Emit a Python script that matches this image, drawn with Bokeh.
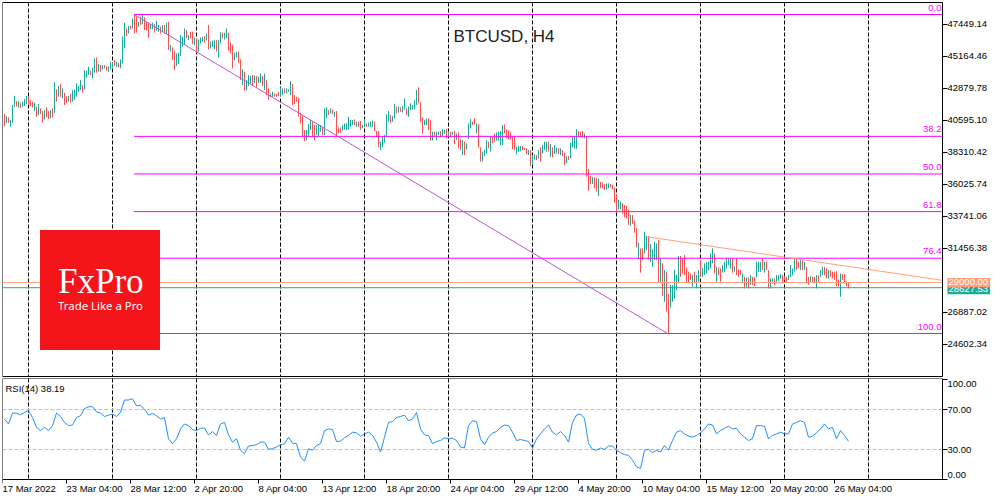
from bokeh.core.properties import value
from bokeh.embed import file_html
from bokeh.layouts import column
from bokeh.models import BoxAnnotation, FixedTicker, Label, NumeralTickFormatter, Range1d
from bokeh.plotting import figure
from bokeh.resources import INLINE

bar_high = [
41040,40900,40810,40620,41690,42330,41970,41970,41850,41930,
42120,42330,42330,42050,41930,41850,41570,41760,41450,41260,
41330,41520,41260,41330,41450,43330,42810,43050,43190,42880,
42570,42330,42330,42470,42760,42810,43240,43050,43470,43120,
44190,44140,44430,44140,44360,45020,45090,44620,44550,44550,
44550,44470,44430,44780,44710,44900,44780,44710,44950,46570,
47570,47170,47340,47340,47880,48120,48000,47640,48000,48120,
47950,47640,47570,47480,47570,47480,47720,47410,47290,47410,
47410,47570,47640,45980,45810,45570,45380,45430,46690,46570,
47170,47050,46690,46930,46930,46520,46450,46380,46520,46570,
46620,46810,47410,46210,46290,46330,46330,46330,46910,46860,
46860,47170,46860,46210,45980,45430,45500,45500,44950,44240,
44070,43470,43830,43760,43830,43830,43760,43710,43950,43760,
43950,43470,42880,42520,42640,42520,42470,42640,42950,42880,
42880,42880,42810,43400,43190,42400,42280,42210,41140,40970,
39900,39900,40330,40660,40500,40260,40260,40330,40260,40140,
41450,41520,41330,41450,41330,41210,41260,40090,40090,40260,
40380,40380,40850,40610,40610,40660,40500,40500,40540,40260,
40680,40380,40450,40500,40570,40500,39830,39830,39070,39420,
39540,41020,41260,40970,40900,41760,41570,41570,41520,41640,
42160,41450,41570,41810,41690,42040,42760,42950,41880,40800,
40610,40730,40730,40610,39780,39780,39780,39780,39830,39970,
39900,39970,39830,39780,39780,39830,39660,39730,39260,39180,
39070,38950,40380,40680,40500,40730,40380,40330,38660,38350,
38470,39180,39070,39420,39420,39660,39730,39780,39830,40260,
40300,39950,39900,39730,39420,39420,38710,38760,38760,38760,
38640,38590,38470,38470,38110,38180,38110,38470,38660,38830,
39070,39070,39070,38900,38660,38830,38640,38590,38590,38470,
38280,38040,38040,38990,39420,39420,39970,39830,39780,39830,
39660,39420,37110,36610,36560,36520,36490,36440,36200,36130,
36040,36090,36090,36040,35970,35800,35250,34900,34780,34660,
34540,34470,34180,33820,33820,33420,32900,31840,31440,31440,
32630,32320,32320,31750,31370,31910,31800,32030,30720,30370,
29890,29770,28170,28820,28820,29890,29530,30890,30890,30720,
30960,30080,29770,29650,29530,29770,29530,29890,30600,30010,
30370,30480,30480,31080,31440,31080,30130,30060,30010,30250,
30480,30720,30720,30720,30720,30130,30720,29940,29890,29650,
29410,29360,29360,29530,29410,29410,30480,30480,30480,30720,
30480,30480,29890,29290,29290,29290,29530,29530,29600,29530,
29410,29410,29530,30250,30010,30720,30720,30480,30600,30600,
30480,30130,29410,29460,29410,29410,29530,29530,29890,30130,
30130,30010,29890,29890,29770,29770,29820,29220,29650,29600,
29600,29100,28980]
bar_low = [
40190,40420,40420,40140,40420,41570,41570,41500,41500,41570,
41620,41760,41690,41620,41520,41260,40850,40970,41040,40420,
40660,40810,40690,40730,40810,41140,41930,42280,42280,42160,
41690,41810,41930,41850,41930,42050,42280,42640,42760,42570,
42810,43660,43830,43830,43590,44000,44000,44070,44070,44240,
44310,44140,44070,44240,44360,44470,44430,44380,44310,44670,
45740,46620,46810,47100,47170,46810,46860,47290,47410,47480,
47050,47000,46500,47100,47100,46860,47000,46930,46810,46930,
46810,46810,45620,45500,44900,44190,44470,44620,45190,45860,
45980,46450,46330,46450,46050,45980,45430,45500,46090,46210,
46140,46290,45670,45740,45860,45670,45500,45090,46090,46450,
46380,46450,45570,45380,44310,44900,45090,44710,43470,43120,
42710,42760,43050,43240,43050,43240,42950,43280,43280,43050,
42760,42400,42050,42240,42280,42280,42280,42330,42330,42400,
42520,42520,42640,42400,41690,41760,41930,40850,40380,39420,
39110,39180,39420,39900,39420,39180,39540,39470,39780,39540,
39540,40730,40970,41090,41040,40850,39470,39660,39710,39850,
39950,39900,39950,40140,40260,40260,40140,40140,39900,40020,
40090,40140,40140,40140,40140,39830,39420,38660,38470,38660,
39000,39420,40500,40420,40500,40730,41090,41140,41210,41160,
41380,40970,40850,41330,41380,41380,41690,41810,40500,39660,
40260,40260,39900,39140,39140,39420,39180,39540,39420,39470,
39610,39300,39470,39420,39540,38900,39180,38590,38470,38110,
38110,38520,39260,40020,40260,40300,39660,38660,37640,37640,
38040,38230,38590,38350,38950,39070,39140,39140,38830,38830,
39660,39300,39230,39230,38520,38470,38160,38350,38400,38470,
38470,38160,38110,37330,37400,37800,37760,37870,37640,38230,
38470,38350,38350,37990,37950,38180,38230,38180,38110,38040,
37400,37520,37760,37870,38660,38590,38540,39420,39420,39350,
39300,36560,35560,36040,36040,35730,35490,35180,35730,35730,
35610,35660,35730,35800,35660,34700,34060,34230,34230,33940,
33660,33590,33110,33040,33180,32560,31510,30650,29700,30600,
31080,31320,30650,30480,30130,30600,30600,28980,29050,28030,
27620,26910,25360,27220,27620,27860,28460,28940,29410,29650,
29530,28980,28940,29170,28700,28940,28580,29050,29410,29410,
29530,29650,29890,30010,30370,29650,29050,29530,29050,29700,
29770,30010,30250,30010,29700,29770,29530,29410,29530,28980,
28580,28700,28580,28820,28820,28740,29360,29770,29770,29890,
29700,29890,28580,28580,28940,28820,29050,29130,29290,28940,
29130,29050,29170,29410,29530,29770,29890,30010,29890,29890,
29890,28940,28820,29050,29050,28940,28580,29050,29410,29530,
29530,29290,29290,29410,29290,29170,28740,28700,27980,29170,
28940,28740,28580]
bar_dir = list(
"RGRGGGRGRG" "GGRRRGRGRR" "GRRGRGRGRG" "RRGRGGGGGR" "GGGRGGRGRG"
"RRGGGRGRGG" "GRGRGRRGRG" "RRRGGRGGRG" "RGRGRRGGGG" "GRGRRGRGGG"
"RGRGGGRGGR" "GGRRRGGRRG" "RGGGRGRGGR" "GRRGGRRRGG" "RGGGRRRRRR"
"RGGGRRGGGR" "GGRGRGRRRG" "GGGGGRGRRG" "GRGGGRRRGG" "GGGRGGRGRG"
"GRGGGGGRRR" "GGRRGRGGRG" "GRGRGRGRRG" "RGGGRRGRRG" "GGRGRRGGGG"
"RRRRRRGGGR" "RRGRGGRGRG" "GGRGRGGRGR" "RGRGGGGRRR" "GRRRGRRGRR"
"RGGRRRRGGR" "RRRGRRRGRR" "GGRGGGGRGR" "GRRGGGGGRR" "RRRRGRGGRG"
"GGGGGRGRRG" "GGGGRGRRRG" "RGRGRRGGGR" "GRRGGRGGGR" "RRGGGGRRGR"
"GRRGRRGRGG" "RRGRRRRRGR" "RRR")

rsi_every_second_bar = [
60.4,55.5,66.4,66.4,64.7,67,69,62,52.2,48.9,52.2,48.9,53.9,66.4,63,57,53.9,54.5,62,63.7,
71,72.6,72.9,67.7,66.4,63,64.4,65.4,63,67,79.5,79.5,80.8,73.6,74.2,70.3,64.4,66,63.7,60.4,
62,40.7,35.8,40.7,50.6,55.5,53.9,49.9,48.9,51.2,51.5,44.6,47.9,44,55.5,57.1,44.6,37.4,40.7,29.2,
25.9,33.5,34.1,34.8,37.4,37.4,30.2,30.8,32.5,34.8,35.8,42.3,36.4,35.8,22.6,18.3,30.8,29.2,34.1,35.8,
48.9,50.6,49.9,38,
38.4,41.7,44,47.3,46.6,43.3,45.6,47.3,44,37.4,27.5,42.3,57.1,57.8,62,63,64.4,58.8,60.4,67,
50.6,44.6,44,35.8,38,39,41.7,40.7,41.3,39,32.5,31.5,53.9,58.8,57.8,40.7,34.8,42.3,46.6,47.9,
52.2,54.5,53.9,47.3,39,40,39,38,31.5,40.7,45.6,50.6,54.5,47.3,44.6,47.9,44,37.4,57.1,64.4,
65.4,61.1,35.8,30.2,29.2,31.5,30.2,33.5,33.5,29.2,26.9,24.9,24.2,19.3,12.7,11.1,29.2,30.2,26.9,29.2,
27.5,34.1,
29.2,39,47.3,48.9,45.6,43.3,42.3,44,46.6,50.6,55.5,54.5,45.6,48.9,51.2,53.2,50.6,51.2,45.6,42.3,
39,40.7,53.9,53.9,53.2,40.7,44,45.6,47.3,45.6,45.6,55.5,57.1,58.8,57.1,42.3,43.3,46.6,50.6,55.5,
50.6,52.2,40.7,48.9,44,38.19]

price_ticks = [47449.14, 45164.46, 42879.78, 40595.10, 38310.42, 36025.74, 33741.06, 31456.38, 26887.02, 24602.34]
rsi_ticks = [100, 70, 30, 0]
rsi_levels = [70, 30]
separator_bars = [12, 54, 96, 138, 180, 222, 264, 306, 348, 390, 432]
date_ticks = [-1, 31, 63, 95, 127, 159, 191, 223, 255, 287, 319, 351, 383, 415]
date_labels = ["17 Mar 2022", "23 Mar 04:00", "28 Mar 12:00", "2 Apr 20:00", "8 Apr 04:00", "13 Apr 12:00",
               "18 Apr 20:00", "24 Apr 04:00", "29 Apr 12:00", "4 May 20:00", "10 May 04:00", "15 May 12:00",
               "20 May 20:00", "26 May 04:00"]
fib_high = 48162.0
fib_low = 25353.0
fib_levels = [0.0, 38.2, 50.0, 61.8, 76.4, 100.0]
fib_start_bar = 64.75
swing_low_bar = 331.5
orange_level = 29000.0
teal_level = 28627.53
wedge_bars = [321.1, 469]
wedge_prices = [32272, 29152]
RSI_NOW = "RSI(14) 38.19"

X0, XEND, AXIS_X, TAG_X = -1, 494, 469, 471.5
P_TOP, P_BOT = 49020, 22279
R_TOP, R_BOT = 101, 0
FONT = "Liberation Sans"
TICK = "9.5px"
TEAL, RED, MAG, SAL = "#1aa99a", "#fb5050", "#ff00ff", "#ffa07a"
DASH = value([4, 2])

assert len(bar_high) == len(bar_low) == len(bar_dir)

p = figure(width=992, height=378, output_backend="svg", toolbar_location=None,
           x_range=Range1d(X0, XEND), y_range=Range1d(22136, 49163),
           x_axis_location=None, y_axis_location="right",
           min_border_left=2, min_border_right=0, min_border_top=0, min_border_bottom=0,
           outline_line_color=None, background_fill_color="white")
p.grid.visible = False
ax = p.yaxis[0]
ax.fixed_location = AXIS_X
ax.bounds = (P_BOT, P_TOP)
ax.ticker = FixedTicker(ticks=price_ticks)
ax.formatter = NumeralTickFormatter(format="0.00")
ax.axis_line_color = "black"
ax.major_tick_line_color = "black"
ax.major_tick_in = 0
ax.major_tick_out = 5
ax.minor_tick_line_color = None
ax.major_label_standoff = 0
ax.major_label_text_font = FONT
ax.major_label_text_font_size = TICK
ax.major_label_text_color = "black"

p.segment([X0, X0, X0], [P_TOP, P_BOT, P_TOP], [AXIS_X, AXIS_X, X0], [P_TOP, P_BOT, P_BOT],
          line_color="black", line_width=1)
n_sep = len(separator_bars)
p.segment(separator_bars, [P_TOP] * n_sep, separator_bars, [P_BOT] * n_sep,
          line_color="black", line_width=1, line_dash=DASH)

xs = list(range(len(bar_high)))
cols = [TEAL if d == "G" else RED for d in bar_dir]
p.segment(xs, bar_high, xs, bar_low, line_color=cols, line_width=1)

fib_prices = [fib_high - (fib_high - fib_low) * l / 100 for l in fib_levels]
p.segment([fib_start_bar] * len(fib_prices), fib_prices, [AXIS_X] * len(fib_prices), fib_prices,
          line_color=MAG, line_width=1)
p.line([fib_start_bar, swing_low_bar], [fib_high, fib_low], line_color="#ba55d3", line_width=1)
p.segment([X0], [orange_level], [AXIS_X], [orange_level], line_color=SAL, line_width=1)
p.segment([X0], [teal_level], [AXIS_X], [teal_level], line_color=TEAL, line_width=1)
p.line(wedge_bars, wedge_prices, line_color=SAL, line_width=1)

for l, pr in zip(fib_levels, fib_prices):
    p.add_layout(Label(x=468.5, y=pr + 500, text=f"{l:.1f}", text_align="right", text_baseline="middle",
                       text_color=MAG, text_font=FONT, text_font_size=TICK))

p.add_layout(Label(x=224.5, y=46620, text="BTCUSD, H4", text_align="left", text_baseline="middle",
                   text_color="#222222", text_font=FONT, text_font_size="17px"))

p.add_layout(BoxAnnotation(left=17.75, right=77.75, top=32749, bottom=24169,
                           fill_color="#f5141a", fill_alpha=1, line_color=None))
p.add_layout(Label(x=26.75, y=29103, text="FxPro", text_align="left", text_baseline="middle",
                   text_color="white", text_font="Liberation Serif", text_font_size="35px"))
p.add_layout(Label(x=26.75, y=27386, text="Trade Like a Pro", text_align="left", text_baseline="middle",
                   text_color="white", text_font="Noto Sans", text_font_size="11.4px"))

p.add_layout(Label(x=TAG_X, y=28480, text=f"{teal_level:.2f}",
                   text_align="left", text_baseline="middle",
                   text_color="white", text_font=FONT, text_font_size=TICK,
                   background_fill_color=TEAL, padding=(1, 2, 1, 2)))
p.add_layout(Label(x=TAG_X, y=orange_level, text=f"{orange_level:.2f}",
                   text_align="left", text_baseline="middle",
                   text_color="white", text_font=FONT, text_font_size=TICK,
                   background_fill_color=SAL, padding=(1, 2, 1, 2)))

r = figure(width=992, height=116, output_backend="svg", toolbar_location=None,
           x_range=p.x_range, y_range=Range1d(-15, 101), y_axis_location="right",
           min_border_left=2, min_border_right=0, min_border_top=0, min_border_bottom=0,
           outline_line_color=None, background_fill_color="white")
r.grid.visible = False
ay = r.yaxis[0]
ay.fixed_location = AXIS_X
ay.bounds = (R_BOT, R_TOP)
ay.ticker = FixedTicker(ticks=rsi_ticks)
ay.formatter = NumeralTickFormatter(format="0.00")
ay.major_label_overrides = {100: "", 0: ""}
ay.major_tick_in = 0
ay.major_tick_out = 5
ay.minor_tick_line_color = None
ay.major_label_standoff = 0
ay.major_label_text_font = FONT
ay.major_label_text_font_size = TICK
ay.major_label_text_color = "black"
axx = r.xaxis[0]
axx.fixed_location = 0
axx.bounds = (X0, AXIS_X)
axx.ticker = FixedTicker(ticks=date_ticks)
axx.major_label_overrides = {t: "" for t in date_ticks}
axx.major_tick_in = 0
axx.major_tick_out = 4
axx.minor_tick_line_color = None
axx.major_label_text_font_size = "1px"
axx.major_label_standoff = 0

r.segment([X0, X0], [R_TOP, R_TOP], [AXIS_X, X0], [R_TOP, R_BOT], line_color="black", line_width=1)
r.segment(separator_bars, [R_TOP] * n_sep, separator_bars, [R_BOT] * n_sep,
          line_color="black", line_width=1, line_dash=DASH)
r.segment([X0] * len(rsi_levels), rsi_levels, [AXIS_X] * len(rsi_levels), rsi_levels,
          line_color="#c0c0c0", line_width=1, line_dash=DASH)
r.line([2 * k for k in range(len(rsi_every_second_bar))], rsi_every_second_bar, line_color="#1e90ff", line_width=1)

r.add_layout(Label(x=0.5, y=91.5, text=RSI_NOW, text_align="left", text_baseline="middle",
                   text_color="black", text_font=FONT, text_font_size=TICK))
for v, yy in zip(["100.00", "0.00"], [95.5, 5.0]):
    r.add_layout(Label(x=TAG_X, y=yy, text=v, text_align="left", text_baseline="middle",
                       text_color="black", text_font=FONT, text_font_size=TICK))
for t, s in zip(date_ticks, date_labels):
    r.add_layout(Label(x=t, y=-9, text=s, text_align="left", text_baseline="middle",
                       text_color="black", text_font=FONT, text_font_size=TICK))

page = column(p, r, spacing=0, margin=(0, 0, 0, 0))
open("out.html", "w").write(file_html(page, INLINE))
